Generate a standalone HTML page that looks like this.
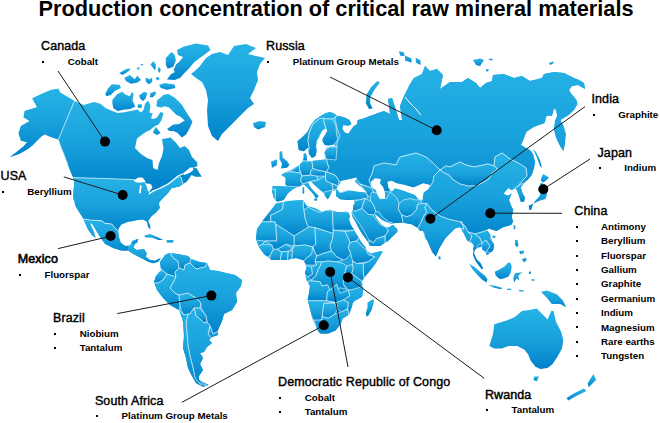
<!DOCTYPE html>
<html><head><meta charset="utf-8">
<style>
html,body{margin:0;padding:0;background:#fff;}
body{width:660px;height:423px;position:relative;overflow:hidden;font-family:"Liberation Sans",sans-serif;color:#000;}
#map{position:absolute;left:0;top:0;width:660px;height:423px;}
.t{position:absolute;white-space:nowrap;line-height:1;}
.title{font-size:21.73px;font-weight:bold;left:38.5px;top:-1.7px;}
.h{font-size:12.5px;letter-spacing:0.1px;}
.b{font-size:9.75px;font-weight:bold;}
.bl{position:absolute;width:2px;height:2px;background:#000;}
</style></head><body>
<svg id="map" viewBox="0 0 660 423">
<defs>
<linearGradient id="g" x1="0" y1="0" x2="0" y2="1"><stop offset="0" stop-color="#27b3e6"/><stop offset="0.5" stop-color="#19a1dc"/><stop offset="1" stop-color="#0082ca"/></linearGradient>
<clipPath id="cNA"><path d="M74.4,101 L84,105 L94,102 L100.4,103.8 L105.8,108.2 L112.4,111 L117.8,113 L124.4,112.3 L132,110.8 L137.4,109.6 L141,112.5 L143.5,110 L145,103.8 L148.3,100.5 L150.5,106 L149.4,112.5 L152.7,113.6 L151,118 L153,119 L156.4,118 L160.6,111.9 L163.5,113.3 L161.3,120.4 L158.5,124.6 L155,126 L150,130 L146,132 L142.2,134.6 L137,138.5 L135,148 L141,154 L147,158 L152.5,160 L153,168 L157.5,170 L159,163 L162,156 L163.5,148.7 L162,139 L164.2,138.8 L170.6,137.4 L176.2,143 L180,148 L184.7,145.9 L189,150 L192,157 L197,162 L197.5,166 L193,168 L196.7,168.3 L200,174 L201.7,176.7 L195,176.7 L191.7,175 L186.7,181.7 L183,184 L179,186.7 L171.7,188 L168,193 L163,198 L159,203 L160,208 L155.8,213 L151.8,216 L148.2,221 L150,225 L150.6,229.4 L148,227 L147,222 L143.3,219.7 L138,220 L133.6,221 L127.6,222 L121.5,224.5 L119,228 L118.3,230.8 L119,236.7 L120.8,242.5 L125,245.8 L130,245.8 L132.5,240.8 L138.3,239 L137.5,242.5 L135,244 L133.3,247.5 L136.7,250 L144,249 L146.7,253.3 L145.8,256.7 L150,260 L155,260.8 L158.3,259 L160.8,258.3 L158.3,261.7 L153.3,263.3 L148.3,261.7 L141.7,258.3 L133.3,254 L128.3,250.8 L121.7,250.8 L113.3,248.3 L105,244 L100.8,238.3 L96.7,231.7 L92.5,224.5 L90,223.3 L94,231.7 L95.8,238.3 L91.7,235 L87.5,229 L83.3,219 L81.5,216 L75.5,206.4 L73,196.7 L74.2,184.5 L74.4,181 L73,177.5 L69.5,169.3 L65.8,159.4 L62,149.5 L58.3,139.6ZM74.4,101 L60,92.5 L58.3,88.7 L50.9,90 L44,93 L37.2,96 L32.3,98.6 L37.2,107.3 L24.8,111 L23.6,117.2 L29.8,121 L21,126 L18.6,133.3 L21,140.8 L27.3,142 L24,146 L16,152.5 L10,157 L19,154 L27,149.5 L32.3,145.5 L37.2,140.6 L41,136.8 L44.7,134.3 L49.6,136.5 L58.3,139.6Z"/></clipPath>
<clipPath id="cEA"><path d="M297.5,141.3 L302.4,137 L307.4,132 L311,125 L314.8,120 L319.8,116.4 L325.4,113.3 L329.8,112 L333.5,113.3 L337.2,115.8 L343.4,117 L349.6,120 L351.5,124 L348.4,125.7 L343.4,125 L342.2,128.8 L344.7,132.6 L348.4,133.8 L350.9,130 L353.4,126.4 L357,124 L357.7,120 L362,119 L370,116 L378,113 L384,111 L390,114 L389,106 L388,99 L392,98 L396,110 L399,120 L402,120 L400,106 L404,96 L410,84 L414,78 L422,74 L425,66 L430,71 L437,69 L443,75 L440,89 L450,82 L462,82 L468,78 L476,83 L480,88 L486,83 L492,81 L493,75 L504,74 L514,78 L522,76 L530,81 L542,78 L544,74 L554,72 L564,73 L574,78 L579,80 L584,83 L585,89 L578,85 L572,86 L569,90 L571,93.4 L576.4,99.8 L577.4,104 L574.3,109.4 L569,114.7 L563.6,117.9 L560.4,120 L563.6,126.4 L565.7,133.8 L565,142.3 L563.6,150.9 L560.4,146.6 L556.2,138 L554,129.6 L555,121 L557.2,115.7 L556.2,110.4 L554,108.3 L552,115.7 L546.6,115.7 L544.5,123 L536,126 L532.8,127.4 L526.4,131.7 L523.2,140 L521,145 L526,148 L530,150 L533,154 L535,162 L534,168 L531.7,175 L527.5,180 L525,181.7 L521.7,185.8 L520.8,187.5 L522.5,193.3 L525,197.5 L524,201.7 L520.8,201.7 L519,195.8 L516.7,190 L515,188.3 L511.7,190 L508.3,188 L505,191.7 L503.3,194 L508.3,195.8 L511.7,193.3 L509,200 L510.8,205 L513.3,210 L511.7,216.7 L513,222 L511,225 L503.6,227 L496.4,231 L489,228.5 L486.7,230 L490,234.2 L491.7,240 L494.2,245 L493.3,250 L490,253.3 L486.7,255 L485.8,252.5 L482.5,250 L481.7,246.7 L478.3,247.5 L475,250 L474,253 L476.7,259.2 L480.8,263.3 L483.3,268.7 L481.7,269.2 L478.3,265 L475,260 L473,255 L473.3,244 L467.3,240.6 L463.6,233 L460,227 L455,228.5 L451.5,232 L445.5,238 L439.4,247.9 L435.8,256.4 L432,251.5 L427.3,240.6 L425,237.7 L423.3,231 L420,231 L417.5,227.7 L411.7,224.3 L403.3,222.7 L395,223 L392.5,224 L389,223 L385,221.5 L382,220 L379,217.5 L376,215 L374.5,214 L377,219 L380,223 L382,225 L385,227 L389,227.5 L391,226 L393,225 L395,227 L398,230 L397.5,232 L393.3,236 L388.3,241 L385,242.7 L380,246 L370,246 L368,242 L365,238 L362,234 L359,229 L356,223 L352.5,217 L351.5,213 L353,210 L353.5,205 L355,203 L354,201 L358.7,199.3 L348.7,200 L340.3,199.3 L336,196 L336,190 L332,191 L330.3,195 L327.8,199.3 L325.3,196 L322.8,191.8 L318.7,189.3 L313.7,184.3 L310.3,181 L308,182.5 L310.3,187 L314.5,192 L318.7,196 L316,198.5 L314,195 L310,190.5 L307,187 L304,184.5 L301,186 L297.8,186.8 L292.8,189.3 L287.8,193.5 L283.7,200 L277,201.8 L273.7,197.7 L272,191 L272.8,186 L282.8,186 L287,186.8 L285.3,184.3 L285.3,177.7 L281,175 L287,171.8 L291,170 L296,166.8 L299.5,165 L302,161.8 L303.7,158 L303.7,153.5 L306,153.5 L307,158.5 L307,161 L312,161 L318.7,160.2 L325.3,159.3 L324.5,152.7 L326,149 L327,147.3 L336,146 L333.5,144.4 L328.5,145.6 L324.8,145 L322.5,141.3 L322.9,138.2 L325.4,134.4 L327.3,130.7 L326,128.8 L323.5,129.5 L321,132.6 L319.2,137.5 L316.7,141.3 L316,146.2 L316.7,151.2 L315.5,156 L312,158 L310.5,156 L308.6,153 L308,147.5 L303.7,151.2 L298.7,150Z"/></clipPath>
<clipPath id="cAF"><path d="M276,203.5 L288.5,201 L303,200 L306.7,206 L315,208 L322.4,212 L329.7,209.5 L337,212 L343,212 L345,211.5 L348,212 L350,216 L349,219.5 L351,225 L354,230 L357,235 L360,240 L361.7,242.7 L365,246.8 L366.7,250.2 L370.8,253.5 L381.7,251 L382.5,252 L380,256 L375,264.3 L368.3,272.7 L364,277.7 L362,282 L363.3,289.4 L362,296.7 L353.6,301.5 L351.2,308.8 L348.8,314.8 L342.7,318.5 L340.3,324.5 L335.5,330.6 L328.2,333.5 L319.7,333.5 L317.3,329.4 L312.4,318.5 L310,308.8 L307.6,300 L309,293 L310,286 L306.4,279.7 L305,272 L306.7,267.7 L304,260.5 L296,258 L286,260 L271.5,260 L264,254 L259,247 L256,239 L257,229 L264,219 L271.5,209.5Z"/></clipPath>
<clipPath id="cSA"><path d="M165,255 L169,253 L178,254 L188,256 L191,259 L200,262 L207,263 L210,270 L218,271 L226,273 L235,275 L242,280 L241,286 L236,293 L237,302 L232,310 L224,314 L222,321 L218,330 L218,335 L212,337 L209,340 L212,343 L207,347 L204,352 L200,353 L203,358 L200,364 L203,370 L199,376 L199,380 L209,385 L203,387 L196,383 L192,376 L188,368 L186,358 L183,348 L184,336 L183,322 L182,318 L179,310 L170,305 L163,298 L157,290 L154,282 L156,276 L161,270 L160,262Z"/></clipPath>
<linearGradient id="gCA" gradientUnits="userSpaceOnUse" x1="0" y1="100" x2="0" y2="186"><stop offset="0" stop-color="#27b3e6"/><stop offset="0.5" stop-color="#19a1dc"/><stop offset="1" stop-color="#0082ca"/></linearGradient>
<linearGradient id="gUS" gradientUnits="userSpaceOnUse" x1="0" y1="177" x2="0" y2="232"><stop offset="0" stop-color="#27b3e6"/><stop offset="0.5" stop-color="#19a1dc"/><stop offset="1" stop-color="#0082ca"/></linearGradient>
<linearGradient id="gMX" gradientUnits="userSpaceOnUse" x1="0" y1="219" x2="0" y2="254"><stop offset="0" stop-color="#27b3e6"/><stop offset="0.5" stop-color="#19a1dc"/><stop offset="1" stop-color="#0082ca"/></linearGradient>
<linearGradient id="gCAm" gradientUnits="userSpaceOnUse" x1="0" y1="244" x2="0" y2="266"><stop offset="0" stop-color="#27b3e6"/><stop offset="0.5" stop-color="#19a1dc"/><stop offset="1" stop-color="#0082ca"/></linearGradient>
<linearGradient id="gAK" gradientUnits="userSpaceOnUse" x1="0" y1="90" x2="0" y2="156"><stop offset="0" stop-color="#27b3e6"/><stop offset="0.5" stop-color="#19a1dc"/><stop offset="1" stop-color="#0082ca"/></linearGradient>
<linearGradient id="gRU" gradientUnits="userSpaceOnUse" x1="0" y1="60" x2="0" y2="218"><stop offset="0" stop-color="#27b3e6"/><stop offset="0.5" stop-color="#19a1dc"/><stop offset="1" stop-color="#0082ca"/></linearGradient>
<linearGradient id="gME" gradientUnits="userSpaceOnUse" x1="0" y1="175" x2="0" y2="250"><stop offset="0" stop-color="#27b3e6"/><stop offset="0.5" stop-color="#19a1dc"/><stop offset="1" stop-color="#0082ca"/></linearGradient>
<linearGradient id="c1" gradientUnits="userSpaceOnUse" x1="0" y1="110" x2="0" y2="152"><stop offset="0" stop-color="#27b3e6"/><stop offset="0.5" stop-color="#19a1dc"/><stop offset="1" stop-color="#0082ca"/></linearGradient>
<linearGradient id="c2" gradientUnits="userSpaceOnUse" x1="0" y1="118.3" x2="0" y2="159.5"><stop offset="0" stop-color="#27b3e6"/><stop offset="0.5" stop-color="#19a1dc"/><stop offset="1" stop-color="#0082ca"/></linearGradient>
<linearGradient id="c3" gradientUnits="userSpaceOnUse" x1="0" y1="118.3" x2="0" y2="147"><stop offset="0" stop-color="#27b3e6"/><stop offset="0.5" stop-color="#19a1dc"/><stop offset="1" stop-color="#0082ca"/></linearGradient>
<linearGradient id="c4" gradientUnits="userSpaceOnUse" x1="0" y1="152" x2="0" y2="161"><stop offset="0" stop-color="#27b3e6"/><stop offset="0.5" stop-color="#19a1dc"/><stop offset="1" stop-color="#0082ca"/></linearGradient>
<linearGradient id="c5" gradientUnits="userSpaceOnUse" x1="0" y1="161" x2="0" y2="176"><stop offset="0" stop-color="#27b3e6"/><stop offset="0.5" stop-color="#19a1dc"/><stop offset="1" stop-color="#0082ca"/></linearGradient>
<linearGradient id="c6" gradientUnits="userSpaceOnUse" x1="0" y1="159" x2="0" y2="171.8"><stop offset="0" stop-color="#27b3e6"/><stop offset="0.5" stop-color="#19a1dc"/><stop offset="1" stop-color="#0082ca"/></linearGradient>
<linearGradient id="c7" gradientUnits="userSpaceOnUse" x1="0" y1="147" x2="0" y2="160"><stop offset="0" stop-color="#27b3e6"/><stop offset="0.5" stop-color="#19a1dc"/><stop offset="1" stop-color="#0082ca"/></linearGradient>
<linearGradient id="c8" gradientUnits="userSpaceOnUse" x1="0" y1="165" x2="0" y2="173"><stop offset="0" stop-color="#27b3e6"/><stop offset="0.5" stop-color="#19a1dc"/><stop offset="1" stop-color="#0082ca"/></linearGradient>
<linearGradient id="c9" gradientUnits="userSpaceOnUse" x1="0" y1="172" x2="0" y2="188"><stop offset="0" stop-color="#27b3e6"/><stop offset="0.5" stop-color="#19a1dc"/><stop offset="1" stop-color="#0082ca"/></linearGradient>
<linearGradient id="c10" gradientUnits="userSpaceOnUse" x1="0" y1="185" x2="0" y2="203"><stop offset="0" stop-color="#27b3e6"/><stop offset="0.5" stop-color="#19a1dc"/><stop offset="1" stop-color="#0082ca"/></linearGradient>
<linearGradient id="c11" gradientUnits="userSpaceOnUse" x1="0" y1="189" x2="0" y2="203"><stop offset="0" stop-color="#27b3e6"/><stop offset="0.5" stop-color="#19a1dc"/><stop offset="1" stop-color="#0082ca"/></linearGradient>
<linearGradient id="c12" gradientUnits="userSpaceOnUse" x1="0" y1="175" x2="0" y2="184"><stop offset="0" stop-color="#27b3e6"/><stop offset="0.5" stop-color="#19a1dc"/><stop offset="1" stop-color="#0082ca"/></linearGradient>
<linearGradient id="c13" gradientUnits="userSpaceOnUse" x1="0" y1="168.5" x2="0" y2="176"><stop offset="0" stop-color="#27b3e6"/><stop offset="0.5" stop-color="#19a1dc"/><stop offset="1" stop-color="#0082ca"/></linearGradient>
<linearGradient id="c14" gradientUnits="userSpaceOnUse" x1="0" y1="181.5" x2="0" y2="201"><stop offset="0" stop-color="#27b3e6"/><stop offset="0.5" stop-color="#19a1dc"/><stop offset="1" stop-color="#0082ca"/></linearGradient>
<linearGradient id="c15" gradientUnits="userSpaceOnUse" x1="0" y1="176" x2="0" y2="201"><stop offset="0" stop-color="#27b3e6"/><stop offset="0.5" stop-color="#19a1dc"/><stop offset="1" stop-color="#0082ca"/></linearGradient>
<linearGradient id="c16" gradientUnits="userSpaceOnUse" x1="0" y1="171.8" x2="0" y2="186"><stop offset="0" stop-color="#27b3e6"/><stop offset="0.5" stop-color="#19a1dc"/><stop offset="1" stop-color="#0082ca"/></linearGradient>
<linearGradient id="c17" gradientUnits="userSpaceOnUse" x1="0" y1="183.5" x2="0" y2="191"><stop offset="0" stop-color="#27b3e6"/><stop offset="0.5" stop-color="#19a1dc"/><stop offset="1" stop-color="#0082ca"/></linearGradient>
<linearGradient id="c18" gradientUnits="userSpaceOnUse" x1="0" y1="190" x2="0" y2="201"><stop offset="0" stop-color="#27b3e6"/><stop offset="0.5" stop-color="#19a1dc"/><stop offset="1" stop-color="#0082ca"/></linearGradient>
<linearGradient id="c19" gradientUnits="userSpaceOnUse" x1="0" y1="189" x2="0" y2="203"><stop offset="0" stop-color="#27b3e6"/><stop offset="0.5" stop-color="#19a1dc"/><stop offset="1" stop-color="#0082ca"/></linearGradient>
<linearGradient id="c20" gradientUnits="userSpaceOnUse" x1="0" y1="184" x2="0" y2="196.8"><stop offset="0" stop-color="#27b3e6"/><stop offset="0.5" stop-color="#19a1dc"/><stop offset="1" stop-color="#0082ca"/></linearGradient>
<linearGradient id="c21" gradientUnits="userSpaceOnUse" x1="0" y1="198.5" x2="0" y2="211"><stop offset="0" stop-color="#27b3e6"/><stop offset="0.5" stop-color="#19a1dc"/><stop offset="1" stop-color="#0082ca"/></linearGradient>
<linearGradient id="c22" gradientUnits="userSpaceOnUse" x1="0" y1="198.5" x2="0" y2="215"><stop offset="0" stop-color="#27b3e6"/><stop offset="0.5" stop-color="#19a1dc"/><stop offset="1" stop-color="#0082ca"/></linearGradient>
<linearGradient id="c23" gradientUnits="userSpaceOnUse" x1="0" y1="191.8" x2="0" y2="224"><stop offset="0" stop-color="#27b3e6"/><stop offset="0.5" stop-color="#19a1dc"/><stop offset="1" stop-color="#0082ca"/></linearGradient>
<linearGradient id="c24" gradientUnits="userSpaceOnUse" x1="0" y1="198.5" x2="0" y2="216.8"><stop offset="0" stop-color="#27b3e6"/><stop offset="0.5" stop-color="#19a1dc"/><stop offset="1" stop-color="#0082ca"/></linearGradient>
<linearGradient id="c25" gradientUnits="userSpaceOnUse" x1="0" y1="203.5" x2="0" y2="228.5"><stop offset="0" stop-color="#27b3e6"/><stop offset="0.5" stop-color="#19a1dc"/><stop offset="1" stop-color="#0082ca"/></linearGradient>
<linearGradient id="c26" gradientUnits="userSpaceOnUse" x1="0" y1="208.5" x2="0" y2="242.7"><stop offset="0" stop-color="#27b3e6"/><stop offset="0.5" stop-color="#19a1dc"/><stop offset="1" stop-color="#0082ca"/></linearGradient>
<linearGradient id="c27" gradientUnits="userSpaceOnUse" x1="0" y1="222" x2="0" y2="242.7"><stop offset="0" stop-color="#27b3e6"/><stop offset="0.5" stop-color="#19a1dc"/><stop offset="1" stop-color="#0082ca"/></linearGradient>
<linearGradient id="c28" gradientUnits="userSpaceOnUse" x1="0" y1="236" x2="0" y2="248"><stop offset="0" stop-color="#27b3e6"/><stop offset="0.5" stop-color="#19a1dc"/><stop offset="1" stop-color="#0082ca"/></linearGradient>
<linearGradient id="c29" gradientUnits="userSpaceOnUse" x1="0" y1="153" x2="0" y2="192"><stop offset="0" stop-color="#27b3e6"/><stop offset="0.5" stop-color="#19a1dc"/><stop offset="1" stop-color="#0082ca"/></linearGradient>
<linearGradient id="c30" gradientUnits="userSpaceOnUse" x1="0" y1="162" x2="0" y2="186"><stop offset="0" stop-color="#27b3e6"/><stop offset="0.5" stop-color="#19a1dc"/><stop offset="1" stop-color="#0082ca"/></linearGradient>
<linearGradient id="c31" gradientUnits="userSpaceOnUse" x1="0" y1="153" x2="0" y2="240"><stop offset="0" stop-color="#27b3e6"/><stop offset="0.5" stop-color="#19a1dc"/><stop offset="1" stop-color="#0082ca"/></linearGradient>
<linearGradient id="c32" gradientUnits="userSpaceOnUse" x1="0" y1="203.5" x2="0" y2="259"><stop offset="0" stop-color="#27b3e6"/><stop offset="0.5" stop-color="#19a1dc"/><stop offset="1" stop-color="#0082ca"/></linearGradient>
<linearGradient id="c33" gradientUnits="userSpaceOnUse" x1="0" y1="183" x2="0" y2="203"><stop offset="0" stop-color="#27b3e6"/><stop offset="0.5" stop-color="#19a1dc"/><stop offset="1" stop-color="#0082ca"/></linearGradient>
<linearGradient id="c34" gradientUnits="userSpaceOnUse" x1="0" y1="222" x2="0" y2="252"><stop offset="0" stop-color="#27b3e6"/><stop offset="0.5" stop-color="#19a1dc"/><stop offset="1" stop-color="#0082ca"/></linearGradient>
<linearGradient id="c35" gradientUnits="userSpaceOnUse" x1="0" y1="232" x2="0" y2="252"><stop offset="0" stop-color="#27b3e6"/><stop offset="0.5" stop-color="#19a1dc"/><stop offset="1" stop-color="#0082ca"/></linearGradient>
<linearGradient id="c36" gradientUnits="userSpaceOnUse" x1="0" y1="229.5" x2="0" y2="253"><stop offset="0" stop-color="#27b3e6"/><stop offset="0.5" stop-color="#19a1dc"/><stop offset="1" stop-color="#0082ca"/></linearGradient>
<linearGradient id="c37" gradientUnits="userSpaceOnUse" x1="0" y1="240" x2="0" y2="252"><stop offset="0" stop-color="#27b3e6"/><stop offset="0.5" stop-color="#19a1dc"/><stop offset="1" stop-color="#0082ca"/></linearGradient>
<linearGradient id="gAF" gradientUnits="userSpaceOnUse" x1="0" y1="200" x2="0" y2="336"><stop offset="0" stop-color="#27b3e6"/><stop offset="0.5" stop-color="#19a1dc"/><stop offset="1" stop-color="#0082ca"/></linearGradient>
<linearGradient id="c38" gradientUnits="userSpaceOnUse" x1="0" y1="201" x2="0" y2="221.8"><stop offset="0" stop-color="#27b3e6"/><stop offset="0.5" stop-color="#19a1dc"/><stop offset="1" stop-color="#0082ca"/></linearGradient>
<linearGradient id="c39" gradientUnits="userSpaceOnUse" x1="0" y1="199" x2="0" y2="236"><stop offset="0" stop-color="#27b3e6"/><stop offset="0.5" stop-color="#19a1dc"/><stop offset="1" stop-color="#0082ca"/></linearGradient>
<linearGradient id="c40" gradientUnits="userSpaceOnUse" x1="0" y1="199" x2="0" y2="210"><stop offset="0" stop-color="#27b3e6"/><stop offset="0.5" stop-color="#19a1dc"/><stop offset="1" stop-color="#0082ca"/></linearGradient>
<linearGradient id="c41" gradientUnits="userSpaceOnUse" x1="0" y1="207" x2="0" y2="233.5"><stop offset="0" stop-color="#27b3e6"/><stop offset="0.5" stop-color="#19a1dc"/><stop offset="1" stop-color="#0082ca"/></linearGradient>
<linearGradient id="c42" gradientUnits="userSpaceOnUse" x1="0" y1="210.8" x2="0" y2="230.2"><stop offset="0" stop-color="#27b3e6"/><stop offset="0.5" stop-color="#19a1dc"/><stop offset="1" stop-color="#0082ca"/></linearGradient>
<linearGradient id="c43" gradientUnits="userSpaceOnUse" x1="0" y1="221.8" x2="0" y2="244.3"><stop offset="0" stop-color="#27b3e6"/><stop offset="0.5" stop-color="#19a1dc"/><stop offset="1" stop-color="#0082ca"/></linearGradient>
<linearGradient id="c44" gradientUnits="userSpaceOnUse" x1="0" y1="224.3" x2="0" y2="249.3"><stop offset="0" stop-color="#27b3e6"/><stop offset="0.5" stop-color="#19a1dc"/><stop offset="1" stop-color="#0082ca"/></linearGradient>
<linearGradient id="c45" gradientUnits="userSpaceOnUse" x1="0" y1="226.8" x2="0" y2="249.3"><stop offset="0" stop-color="#27b3e6"/><stop offset="0.5" stop-color="#19a1dc"/><stop offset="1" stop-color="#0082ca"/></linearGradient>
<linearGradient id="c46" gradientUnits="userSpaceOnUse" x1="0" y1="227.7" x2="0" y2="256"><stop offset="0" stop-color="#27b3e6"/><stop offset="0.5" stop-color="#19a1dc"/><stop offset="1" stop-color="#0082ca"/></linearGradient>
<linearGradient id="c47" gradientUnits="userSpaceOnUse" x1="0" y1="230.2" x2="0" y2="260"><stop offset="0" stop-color="#27b3e6"/><stop offset="0.5" stop-color="#19a1dc"/><stop offset="1" stop-color="#0082ca"/></linearGradient>
<linearGradient id="c48" gradientUnits="userSpaceOnUse" x1="0" y1="230" x2="0" y2="242.7"><stop offset="0" stop-color="#27b3e6"/><stop offset="0.5" stop-color="#19a1dc"/><stop offset="1" stop-color="#0082ca"/></linearGradient>
<linearGradient id="c49" gradientUnits="userSpaceOnUse" x1="0" y1="241" x2="0" y2="263.5"><stop offset="0" stop-color="#27b3e6"/><stop offset="0.5" stop-color="#19a1dc"/><stop offset="1" stop-color="#0082ca"/></linearGradient>
<linearGradient id="c50" gradientUnits="userSpaceOnUse" x1="0" y1="249" x2="0" y2="279"><stop offset="0" stop-color="#27b3e6"/><stop offset="0.5" stop-color="#19a1dc"/><stop offset="1" stop-color="#0082ca"/></linearGradient>
<linearGradient id="c51" gradientUnits="userSpaceOnUse" x1="0" y1="237" x2="0" y2="250.2"><stop offset="0" stop-color="#27b3e6"/><stop offset="0.5" stop-color="#19a1dc"/><stop offset="1" stop-color="#0082ca"/></linearGradient>
<linearGradient id="c52" gradientUnits="userSpaceOnUse" x1="0" y1="240" x2="0" y2="247"><stop offset="0" stop-color="#27b3e6"/><stop offset="0.5" stop-color="#19a1dc"/><stop offset="1" stop-color="#0082ca"/></linearGradient>
<linearGradient id="c53" gradientUnits="userSpaceOnUse" x1="0" y1="244.3" x2="0" y2="258"><stop offset="0" stop-color="#27b3e6"/><stop offset="0.5" stop-color="#19a1dc"/><stop offset="1" stop-color="#0082ca"/></linearGradient>
<linearGradient id="c54" gradientUnits="userSpaceOnUse" x1="0" y1="249.3" x2="0" y2="262"><stop offset="0" stop-color="#27b3e6"/><stop offset="0.5" stop-color="#19a1dc"/><stop offset="1" stop-color="#0082ca"/></linearGradient>
<linearGradient id="c55" gradientUnits="userSpaceOnUse" x1="0" y1="244.3" x2="0" y2="251.8"><stop offset="0" stop-color="#27b3e6"/><stop offset="0.5" stop-color="#19a1dc"/><stop offset="1" stop-color="#0082ca"/></linearGradient>
<linearGradient id="c56" gradientUnits="userSpaceOnUse" x1="0" y1="251" x2="0" y2="262"><stop offset="0" stop-color="#27b3e6"/><stop offset="0.5" stop-color="#19a1dc"/><stop offset="1" stop-color="#0082ca"/></linearGradient>
<linearGradient id="c57" gradientUnits="userSpaceOnUse" x1="0" y1="249.3" x2="0" y2="262"><stop offset="0" stop-color="#27b3e6"/><stop offset="0.5" stop-color="#19a1dc"/><stop offset="1" stop-color="#0082ca"/></linearGradient>
<linearGradient id="c58" gradientUnits="userSpaceOnUse" x1="0" y1="245" x2="0" y2="262"><stop offset="0" stop-color="#27b3e6"/><stop offset="0.5" stop-color="#19a1dc"/><stop offset="1" stop-color="#0082ca"/></linearGradient>
<linearGradient id="c59" gradientUnits="userSpaceOnUse" x1="0" y1="246.8" x2="0" y2="265"><stop offset="0" stop-color="#27b3e6"/><stop offset="0.5" stop-color="#19a1dc"/><stop offset="1" stop-color="#0082ca"/></linearGradient>
<linearGradient id="c60" gradientUnits="userSpaceOnUse" x1="0" y1="251" x2="0" y2="261.8"><stop offset="0" stop-color="#27b3e6"/><stop offset="0.5" stop-color="#19a1dc"/><stop offset="1" stop-color="#0082ca"/></linearGradient>
<linearGradient id="c61" gradientUnits="userSpaceOnUse" x1="0" y1="265" x2="0" y2="277"><stop offset="0" stop-color="#27b3e6"/><stop offset="0.5" stop-color="#19a1dc"/><stop offset="1" stop-color="#0082ca"/></linearGradient>
<linearGradient id="c62" gradientUnits="userSpaceOnUse" x1="0" y1="261.8" x2="0" y2="280"><stop offset="0" stop-color="#27b3e6"/><stop offset="0.5" stop-color="#19a1dc"/><stop offset="1" stop-color="#0082ca"/></linearGradient>
<linearGradient id="c63" gradientUnits="userSpaceOnUse" x1="0" y1="261" x2="0" y2="290"><stop offset="0" stop-color="#27b3e6"/><stop offset="0.5" stop-color="#19a1dc"/><stop offset="1" stop-color="#0082ca"/></linearGradient>
<linearGradient id="c64" gradientUnits="userSpaceOnUse" x1="0" y1="264.3" x2="0" y2="273.5"><stop offset="0" stop-color="#27b3e6"/><stop offset="0.5" stop-color="#19a1dc"/><stop offset="1" stop-color="#0082ca"/></linearGradient>
<linearGradient id="c65" gradientUnits="userSpaceOnUse" x1="0" y1="261" x2="0" y2="281"><stop offset="0" stop-color="#27b3e6"/><stop offset="0.5" stop-color="#19a1dc"/><stop offset="1" stop-color="#0082ca"/></linearGradient>
<linearGradient id="c66" gradientUnits="userSpaceOnUse" x1="0" y1="272.7" x2="0" y2="290"><stop offset="0" stop-color="#27b3e6"/><stop offset="0.5" stop-color="#19a1dc"/><stop offset="1" stop-color="#0082ca"/></linearGradient>
<linearGradient id="c67" gradientUnits="userSpaceOnUse" x1="0" y1="280.8" x2="0" y2="300.8"><stop offset="0" stop-color="#27b3e6"/><stop offset="0.5" stop-color="#19a1dc"/><stop offset="1" stop-color="#0082ca"/></linearGradient>
<linearGradient id="c68" gradientUnits="userSpaceOnUse" x1="0" y1="284.3" x2="0" y2="302.5"><stop offset="0" stop-color="#27b3e6"/><stop offset="0.5" stop-color="#19a1dc"/><stop offset="1" stop-color="#0082ca"/></linearGradient>
<linearGradient id="c69" gradientUnits="userSpaceOnUse" x1="0" y1="286" x2="0" y2="316"><stop offset="0" stop-color="#27b3e6"/><stop offset="0.5" stop-color="#19a1dc"/><stop offset="1" stop-color="#0082ca"/></linearGradient>
<linearGradient id="c70" gradientUnits="userSpaceOnUse" x1="0" y1="300" x2="0" y2="311.7"><stop offset="0" stop-color="#27b3e6"/><stop offset="0.5" stop-color="#19a1dc"/><stop offset="1" stop-color="#0082ca"/></linearGradient>
<linearGradient id="c71" gradientUnits="userSpaceOnUse" x1="0" y1="300.8" x2="0" y2="321"><stop offset="0" stop-color="#27b3e6"/><stop offset="0.5" stop-color="#19a1dc"/><stop offset="1" stop-color="#0082ca"/></linearGradient>
<linearGradient id="c72" gradientUnits="userSpaceOnUse" x1="0" y1="303.3" x2="0" y2="318.3"><stop offset="0" stop-color="#27b3e6"/><stop offset="0.5" stop-color="#19a1dc"/><stop offset="1" stop-color="#0082ca"/></linearGradient>
<linearGradient id="c73" gradientUnits="userSpaceOnUse" x1="0" y1="309" x2="0" y2="335"><stop offset="0" stop-color="#27b3e6"/><stop offset="0.5" stop-color="#19a1dc"/><stop offset="1" stop-color="#0082ca"/></linearGradient>
<linearGradient id="gSA" gradientUnits="userSpaceOnUse" x1="0" y1="253" x2="0" y2="388"><stop offset="0" stop-color="#27b3e6"/><stop offset="0.5" stop-color="#19a1dc"/><stop offset="1" stop-color="#0082ca"/></linearGradient>
<linearGradient id="c74" gradientUnits="userSpaceOnUse" x1="0" y1="250" x2="0" y2="277"><stop offset="0" stop-color="#27b3e6"/><stop offset="0.5" stop-color="#19a1dc"/><stop offset="1" stop-color="#0082ca"/></linearGradient>
<linearGradient id="c75" gradientUnits="userSpaceOnUse" x1="0" y1="250" x2="0" y2="270"><stop offset="0" stop-color="#27b3e6"/><stop offset="0.5" stop-color="#19a1dc"/><stop offset="1" stop-color="#0082ca"/></linearGradient>
<linearGradient id="c76" gradientUnits="userSpaceOnUse" x1="0" y1="257" x2="0" y2="269"><stop offset="0" stop-color="#27b3e6"/><stop offset="0.5" stop-color="#19a1dc"/><stop offset="1" stop-color="#0082ca"/></linearGradient>
<linearGradient id="c77" gradientUnits="userSpaceOnUse" x1="0" y1="270" x2="0" y2="283"><stop offset="0" stop-color="#27b3e6"/><stop offset="0.5" stop-color="#19a1dc"/><stop offset="1" stop-color="#0082ca"/></linearGradient>
<linearGradient id="c78" gradientUnits="userSpaceOnUse" x1="0" y1="274" x2="0" y2="312"><stop offset="0" stop-color="#27b3e6"/><stop offset="0.5" stop-color="#19a1dc"/><stop offset="1" stop-color="#0082ca"/></linearGradient>
<linearGradient id="c79" gradientUnits="userSpaceOnUse" x1="0" y1="293" x2="0" y2="315"><stop offset="0" stop-color="#27b3e6"/><stop offset="0.5" stop-color="#19a1dc"/><stop offset="1" stop-color="#0082ca"/></linearGradient>
<linearGradient id="c80" gradientUnits="userSpaceOnUse" x1="0" y1="261" x2="0" y2="334"><stop offset="0" stop-color="#27b3e6"/><stop offset="0.5" stop-color="#19a1dc"/><stop offset="1" stop-color="#0082ca"/></linearGradient>
<linearGradient id="c81" gradientUnits="userSpaceOnUse" x1="0" y1="308" x2="0" y2="323"><stop offset="0" stop-color="#27b3e6"/><stop offset="0.5" stop-color="#19a1dc"/><stop offset="1" stop-color="#0082ca"/></linearGradient>
<linearGradient id="c82" gradientUnits="userSpaceOnUse" x1="0" y1="326" x2="0" y2="339"><stop offset="0" stop-color="#27b3e6"/><stop offset="0.5" stop-color="#19a1dc"/><stop offset="1" stop-color="#0082ca"/></linearGradient>
<linearGradient id="c83" gradientUnits="userSpaceOnUse" x1="0" y1="308" x2="0" y2="388"><stop offset="0" stop-color="#27b3e6"/><stop offset="0.5" stop-color="#19a1dc"/><stop offset="1" stop-color="#0082ca"/></linearGradient>
<linearGradient id="c84" gradientUnits="userSpaceOnUse" x1="0" y1="310" x2="0" y2="390"><stop offset="0" stop-color="#27b3e6"/><stop offset="0.5" stop-color="#19a1dc"/><stop offset="1" stop-color="#0082ca"/></linearGradient>
</defs>
<g clip-path="url(#cNA)"><rect x="0" y="80" width="260" height="120" fill="url(#gCA)"/><path d="M73,177.5 L105,178.5 L132,179.5 L136,180 L142,180 L146,184 L148,189 L150,193 L158,189 L166,185 L172,181 L177,177 L181,177 L183,184 L210,184 L210,240 L125,240 L118.3,230.8 L115.8,229 L111.7,224 L105,223.3 L101.7,220.8 L90,220 L83.3,219 L60,219 L60,177.5Z" fill="url(#gUS)"/><path d="M83.3,219 L90,220 L101.7,220.8 L105,223.3 L111.7,224 L115.8,229 L118.3,230.8 L180,230.8 L180,275 L60,275 L60,219Z" fill="url(#gMX)"/><path d="M128,244 L170,244 L170,270 L140,270 L133,254 L128,250.8Z" fill="url(#gCAm)"/><path d="M74.4,101 L58.3,139.6 L62,149.5 L40,162 L0,162 L0,80 L74.4,80Z" fill="url(#gAK)"/><path d="M73,177.5 L105,178.5 L132,179.5 L136,180 L142,180 L146,184 L148,189 L150,193 L158,189 L166,185 L172,181 L177,177 L181,177 L183,184" stroke="#fff" stroke-width="0.8" fill="none" opacity="0.85"/><path d="M83.3,219 L90,220 L101.7,220.8 L105,223.3 L111.7,224 L115.8,229 L118.3,230.8" stroke="#fff" stroke-width="0.8" fill="none" opacity="0.85"/><path d="M74.4,101 L58.3,139.6 L61,147 L64.5,156 L68,165" stroke="#fff" stroke-width="0.8" fill="none" opacity="0.85"/></g>
<g clip-path="url(#cEA)"><rect x="260" y="60" width="340" height="220" fill="url(#gME)"/><path d="M328,147 L326.2,159 L328.7,167.7 L326.2,171.8 L335.3,175.2 L339,181 L345,183 L356,178 L360,184 L366,186 L372,188 L369,180 L372,174 L374,166 L384,163 L396,165 L400,157 L416,153 L426,157 L434,164 L440,170 L446,166 L450,167 L460,162 L466,165 L474,167 L488,164 L494,166 L495,157 L502,153 L510,159 L520,164 L526,168 L527,176 L523,180 L517,187 L540,200 L600,200 L600,50 L337,50 L337,116 L335,118 L337,128 L340,136 L337,143 L337,147Z" fill="url(#gRU)" stroke="#fff" stroke-width="0.7" stroke-opacity="0.8"/><path d="M295,141 L300,135 L306,130 L309,124 L313,118 L318,114 L324,111 L331,110 L338,114 L333,119 L326,119 L319.8,118.3 L313,123.9 L309.3,132.6 L308,141.3 L309.3,147.5 L306,152 L297,152Z" fill="url(#c1)" stroke="#fff" stroke-width="0.7" stroke-opacity="0.8" stroke-linejoin="round"/><path d="M319.8,118.3 L323.5,118.3 L324.2,122.6 L326,128.8 L323,130 L320,135 L317,141 L317,151 L316,157 L312,159.5 L308,154 L309.3,147.5 L308,141.3 L309.3,132.6 L313,123.9Z" fill="url(#c2)" stroke="#fff" stroke-width="0.7" stroke-opacity="0.8" stroke-linejoin="round"/><path d="M323.5,118.3 L326,119 L332.9,119 L336,126.4 L336.6,135 L337.8,139.4 L334.7,143.8 L330,147 L323,146 L321.5,140 L324,134 L327,130 L326,128.8 L324.2,122.6Z" fill="url(#c3)" stroke="#fff" stroke-width="0.7" stroke-opacity="0.8" stroke-linejoin="round"/><path d="M302,152 L308,152 L308,161 L303,161Z" fill="url(#c4)" stroke="#fff" stroke-width="0.7" stroke-opacity="0.8" stroke-linejoin="round"/><path d="M299,165 L303,161 L312,161 L312.8,168.5 L310.3,171.8 L311,175 L302,176 L299.5,169.3Z" fill="url(#c5)" stroke="#fff" stroke-width="0.7" stroke-opacity="0.8" stroke-linejoin="round"/><path d="M312,160 L326.2,159 L328.7,167.7 L326.2,171.8 L317,170 L312.8,168.5Z" fill="url(#c6)" stroke="#fff" stroke-width="0.7" stroke-opacity="0.8" stroke-linejoin="round"/><path d="M324,152 L329,147 L337,147 L336,160 L326.2,159Z" fill="url(#c7)" stroke="#fff" stroke-width="0.7" stroke-opacity="0.8" stroke-linejoin="round"/><path d="M290,172 L299,165 L299.5,169.3 L300,173 L294,172Z" fill="url(#c8)" stroke="#fff" stroke-width="0.7" stroke-opacity="0.8" stroke-linejoin="round"/><path d="M279,174 L285,172 L290,172 L294,172 L300,173 L302,176 L300.3,180 L302.8,184.3 L298,188 L287,187.5 L285,184 L285.3,177.7Z" fill="url(#c9)" stroke="#fff" stroke-width="0.7" stroke-opacity="0.8" stroke-linejoin="round"/><path d="M270,185 L287,186 L298,186.8 L293,190 L288,194 L284,201 L276,203 L275,197.7 L275.3,189.3 L270,189Z" fill="url(#c10)" stroke="#fff" stroke-width="0.7" stroke-opacity="0.8" stroke-linejoin="round"/><path d="M270,189 L275.3,189.3 L275,197.7 L274,203 L270,203Z" fill="url(#c11)" stroke="#fff" stroke-width="0.7" stroke-opacity="0.8" stroke-linejoin="round"/><path d="M300.3,180 L302,176 L311,175 L317,176 L318,180 L310,181.5 L303,184Z" fill="url(#c12)" stroke="#fff" stroke-width="0.7" stroke-opacity="0.8" stroke-linejoin="round"/><path d="M310.3,171.8 L312.8,168.5 L317,170 L326.2,171.8 L325.3,176 L317,176 L311,175Z" fill="url(#c13)" stroke="#fff" stroke-width="0.7" stroke-opacity="0.8" stroke-linejoin="round"/><path d="M302.8,184.3 L303,184 L310,181.5 L311,187 L316,192 L321,196 L317,201 L313,201 L313,194 L308,189 L304,187Z" fill="url(#c14)" stroke="#fff" stroke-width="0.7" stroke-opacity="0.8" stroke-linejoin="round"/><path d="M310,181.5 L318,180 L325.3,176 L326.2,181 L332,183.5 L333,190 L330,195 L328,201 L324,197 L321,191 L314,185Z" fill="url(#c15)" stroke="#fff" stroke-width="0.7" stroke-opacity="0.8" stroke-linejoin="round"/><path d="M325.3,176 L326.2,171.8 L335.3,175.2 L339,181 L337.8,186 L332,183.5 L326.2,181Z" fill="url(#c16)" stroke="#fff" stroke-width="0.7" stroke-opacity="0.8" stroke-linejoin="round"/><path d="M332,183.5 L337.8,186 L337,191 L333,190Z" fill="url(#c17)" stroke="#fff" stroke-width="0.7" stroke-opacity="0.8" stroke-linejoin="round"/><path d="M324,192 L333,190 L337,191 L332,194 L330,201 L325,200Z" fill="url(#c18)" stroke="#fff" stroke-width="0.7" stroke-opacity="0.8" stroke-linejoin="round"/><path d="M333,190 L337,189 L340,192.7 L350,190 L365,191 L368,196 L366.7,198.5 L365,198.5 L354,201 L346,203 L338,202 L333,198Z" fill="url(#c19)" stroke="#fff" stroke-width="0.7" stroke-opacity="0.8" stroke-linejoin="round"/><path d="M360,184 L366,186 L372,188 L374,193 L370,196.8 L368,196 L365,191Z" fill="url(#c20)" stroke="#fff" stroke-width="0.7" stroke-opacity="0.8" stroke-linejoin="round"/><path d="M352,202 L354,201 L365,198.5 L363.3,203.5 L361.7,208.5 L355.8,211 L351,211Z" fill="url(#c21)" stroke="#fff" stroke-width="0.7" stroke-opacity="0.8" stroke-linejoin="round"/><path d="M365,198.5 L370.8,201 L374,206 L375.8,211.8 L373.3,215 L368.3,214.3 L361.7,208.5 L363.3,203.5Z" fill="url(#c22)" stroke="#fff" stroke-width="0.7" stroke-opacity="0.8" stroke-linejoin="round"/><path d="M370,196.8 L371.7,191.8 L377.5,193.5 L380.8,198.5 L386.7,198.5 L390,191.8 L396.7,197.7 L399,203.5 L398.3,209.3 L401.7,215 L403.3,224 L395,224 L389,222 L382.5,217 L379,211.8 L375.8,211.8 L374,206 L370.8,201Z" fill="url(#c23)" stroke="#fff" stroke-width="0.7" stroke-opacity="0.8" stroke-linejoin="round"/><path d="M399,203.5 L403.3,200 L410,198.5 L415.8,200 L421.7,199.3 L417.5,204.3 L416.7,209.3 L411.7,215 L406.7,216.8 L401.7,215 L398.3,209.3Z" fill="url(#c24)" stroke="#fff" stroke-width="0.7" stroke-opacity="0.8" stroke-linejoin="round"/><path d="M416.7,209.3 L417.5,204.3 L421.7,203.5 L426.7,203.5 L425,207.7 L426.7,211.8 L423.3,216.8 L420.8,222.7 L417.5,228.5 L411.7,226 L403.3,224 L401.7,215 L406.7,216.8 L411.7,215Z" fill="url(#c25)" stroke="#fff" stroke-width="0.7" stroke-opacity="0.8" stroke-linejoin="round"/><path d="M351,211 L355.8,211 L361.7,208.5 L368.3,214.3 L373.3,215 L375.8,219.3 L380,224.3 L386.7,227.7 L388.3,231 L385,236 L376.7,238.5 L373.3,242.7 L369,240 L365,232.7 L360,224.3 L355,217.7Z" fill="url(#c26)" stroke="#fff" stroke-width="0.7" stroke-opacity="0.8" stroke-linejoin="round"/><path d="M388.3,231 L386.7,227.7 L391,222 L398,228 L397.5,232 L393.3,236 L388.3,241 L385,242.7 L385,236Z" fill="url(#c27)" stroke="#fff" stroke-width="0.7" stroke-opacity="0.8" stroke-linejoin="round"/><path d="M373.3,242.7 L376.7,238.5 L385,236 L385,242.7 L380,248 L368,248 L369,240Z" fill="url(#c28)" stroke="#fff" stroke-width="0.7" stroke-opacity="0.8" stroke-linejoin="round"/><path d="M372,174 L374,166 L384,163 L396,165 L400,157 L416,153 L426,157 L434,164 L440,170 L434,176 L433,182 L428,189 L410,188 L395,186 L388,192 L380,190 L372,188 L369,180Z" fill="url(#c29)" stroke="#fff" stroke-width="0.7" stroke-opacity="0.8" stroke-linejoin="round"/><path d="M440,170 L446,166 L450,167 L460,162 L466,165 L474,167 L488,164 L494,166 L498,169 L492,173 L489,179 L484,182 L476,186 L468,186 L460,184 L452,179 L449,175 L444,173Z" fill="url(#c30)" stroke="#fff" stroke-width="0.7" stroke-opacity="0.8" stroke-linejoin="round"/><path d="M440,170 L444,173 L449,175 L452,179 L460,184 L468,186 L476,186 L484,182 L489,179 L492,173 L498,169 L494,166 L495,157 L502,153 L510,159 L520,164 L526,168 L527,176 L523,180 L517,187 L516,190 L515,240 L489,229.5 L482,232 L475,234 L468,232 L465,226 L460,222 L456,221 L448,219 L440,216 L432,210 L426.7,203.5 L421.7,203.5 L421.7,199.3 L423.3,192.5 L428,189 L433,182 L434,176Z" fill="url(#c31)" stroke="#fff" stroke-width="0.7" stroke-opacity="0.8" stroke-linejoin="round"/><path d="M417.5,228.5 L420.8,222.7 L423.3,216.8 L426.7,211.8 L425,207.7 L426.7,203.5 L432,210 L440,216 L448,219 L456,221 L462,222 L464,229 L458,229 L452,234 L447,240 L441,250 L436,259 L431,253 L426,242 L424,233 L418,232Z" fill="url(#c32)" stroke="#fff" stroke-width="0.7" stroke-opacity="0.8" stroke-linejoin="round"/><path d="M515,187 L517,187 L523,183 L527,199 L524,203 L519,203Z" fill="url(#c33)" stroke="#fff" stroke-width="0.7" stroke-opacity="0.8" stroke-linejoin="round"/><path d="M460,222 L465,226 L468,232 L472,236 L470,241 L474,246 L472,250 L472.5,252 L470,252 L466,241 L462,233 L458,229 L464,229 L462,222Z" fill="url(#c34)" stroke="#fff" stroke-width="0.7" stroke-opacity="0.8" stroke-linejoin="round"/><path d="M468,232 L475,234 L480,238 L482,243 L478,245 L476.5,249 L472.5,252 L472,250 L474,246 L470,241 L472,236Z" fill="url(#c35)" stroke="#fff" stroke-width="0.7" stroke-opacity="0.8" stroke-linejoin="round"/><path d="M475,234 L482,232 L489,229.5 L492,234 L490,238 L495,245 L493,253 L486,252 L490,246 L486,240 L482,243 L480,238Z" fill="url(#c36)" stroke="#fff" stroke-width="0.7" stroke-opacity="0.8" stroke-linejoin="round"/><path d="M482,243 L486,240 L490,246 L486,252 L481,249Z" fill="url(#c37)" stroke="#fff" stroke-width="0.7" stroke-opacity="0.8" stroke-linejoin="round"/></g>
<g clip-path="url(#cAF)"><rect x="250" y="195" width="140" height="145" fill="url(#gAF)"/><path d="M271,205 L276,203 L283.3,201 L283.3,204.3 L282.5,209.3 L275,213.5 L270.8,215 L270.8,221.8 L258,221.8 L258,215Z" fill="url(#c38)" stroke="#fff" stroke-width="0.7" stroke-opacity="0.8" stroke-linejoin="round"/><path d="M283.3,200 L303.3,199 L303.3,206 L304,210 L305,217.7 L307.5,225 L309,226.8 L294.2,236 L275.8,224.3 L275,221.8 L270.8,221.8 L270.8,215 L275,213.5 L282.5,209.3 L283.3,204.3Z" fill="url(#c39)" stroke="#fff" stroke-width="0.7" stroke-opacity="0.8" stroke-linejoin="round"/><path d="M303.3,199 L308,199 L308,208.5 L305.8,208.5 L304,210 L303.3,206Z" fill="url(#c40)" stroke="#fff" stroke-width="0.7" stroke-opacity="0.8" stroke-linejoin="round"/><path d="M304,210 L305.8,208.5 L308,207 L313.3,210 L320,212.5 L325,210 L332.5,210.8 L333.3,231.8 L333.3,233.5 L315,227.7 L309,226.8 L307.5,225 L305,217.7Z" fill="url(#c41)" stroke="#fff" stroke-width="0.7" stroke-opacity="0.8" stroke-linejoin="round"/><path d="M332.5,210.8 L346.7,212 L354,212 L356,230.2 L333.3,230.2Z" fill="url(#c42)" stroke="#fff" stroke-width="0.7" stroke-opacity="0.8" stroke-linejoin="round"/><path d="M254,221.8 L275,221.8 L275.8,224.3 L276.7,241 L265,241 L262.5,244.3 L254,240Z" fill="url(#c43)" stroke="#fff" stroke-width="0.7" stroke-opacity="0.8" stroke-linejoin="round"/><path d="M275.8,224.3 L294.2,236 L294.2,246 L285.8,244.3 L277.5,249.3 L273.3,249.3 L271.7,245 L265,241 L276.7,241Z" fill="url(#c44)" stroke="#fff" stroke-width="0.7" stroke-opacity="0.8" stroke-linejoin="round"/><path d="M294.2,236 L309,226.8 L315,227.7 L315.8,244.3 L312.5,246.8 L305,245 L294.2,246 L292.5,249.3 L291.7,247.7 L294.2,246Z" fill="url(#c45)" stroke="#fff" stroke-width="0.7" stroke-opacity="0.8" stroke-linejoin="round"/><path d="M315,227.7 L333.3,233.5 L332.5,239.3 L330,246 L331.7,251 L323.3,253.5 L316.7,256 L314.2,251 L312.5,246.8 L315.8,244.3Z" fill="url(#c46)" stroke="#fff" stroke-width="0.7" stroke-opacity="0.8" stroke-linejoin="round"/><path d="M333.3,230.2 L345,231.5 L348.3,237.7 L350,242.7 L348.3,247.7 L350.8,253.5 L346.7,258.5 L343.3,260 L336.7,256.8 L331.7,251 L330,246 L332.5,239.3 L333.3,233.5Z" fill="url(#c47)" stroke="#fff" stroke-width="0.7" stroke-opacity="0.8" stroke-linejoin="round"/><path d="M345,231.5 L357,230 L360,237 L356.7,241 L352.5,241.8 L350,242.7 L348.3,237.7Z" fill="url(#c48)" stroke="#fff" stroke-width="0.7" stroke-opacity="0.8" stroke-linejoin="round"/><path d="M352.5,241.8 L356.7,241 L361.7,246 L366.7,250.2 L368.3,254.3 L375,256.8 L368.3,261.8 L361.7,262.7 L356.7,263.5 L352.5,261 L350.8,253.5 L348.3,247.7 L350,242.7Z" fill="url(#c49)" stroke="#fff" stroke-width="0.7" stroke-opacity="0.8" stroke-linejoin="round"/><path d="M366.7,250.2 L370.8,253.5 L381.7,249 L385,252 L380,258 L375,266 L368.3,274 L364,279 L363.3,271 L363.3,263.5 L368.3,261.8 L375,256.8 L368.3,254.3Z" fill="url(#c50)" stroke="#fff" stroke-width="0.7" stroke-opacity="0.8" stroke-linejoin="round"/><path d="M356.7,241 L360,237 L368,247 L366.7,250.2 L361.7,246Z" fill="url(#c51)" stroke="#fff" stroke-width="0.7" stroke-opacity="0.8" stroke-linejoin="round"/><path d="M253,240 L265,241 L262.5,244.3 L259,246 L253,247Z" fill="url(#c52)" stroke="#fff" stroke-width="0.7" stroke-opacity="0.8" stroke-linejoin="round"/><path d="M253,246 L259,246 L262.5,244.3 L271.7,245 L273.3,249.3 L270,256 L262,258 L256,250Z" fill="url(#c53)" stroke="#fff" stroke-width="0.7" stroke-opacity="0.8" stroke-linejoin="round"/><path d="M273.3,249.3 L277.5,249.3 L281.7,251.8 L280,262 L270,262 L270,256Z" fill="url(#c54)" stroke="#fff" stroke-width="0.7" stroke-opacity="0.8" stroke-linejoin="round"/><path d="M277.5,249.3 L285.8,244.3 L291.7,247.7 L290,251 L281.7,251.8Z" fill="url(#c55)" stroke="#fff" stroke-width="0.7" stroke-opacity="0.8" stroke-linejoin="round"/><path d="M281.7,251.8 L288.3,251 L287.5,262 L280,262Z" fill="url(#c56)" stroke="#fff" stroke-width="0.7" stroke-opacity="0.8" stroke-linejoin="round"/><path d="M288.3,251 L290,251 L292.5,249.3 L291.7,262 L287.5,262Z" fill="url(#c57)" stroke="#fff" stroke-width="0.7" stroke-opacity="0.8" stroke-linejoin="round"/><path d="M292.5,249.3 L294.2,246 L305,245 L312.5,246.8 L314.2,251 L311.7,254.3 L306.7,257.7 L303.3,262 L291.7,262Z" fill="url(#c58)" stroke="#fff" stroke-width="0.7" stroke-opacity="0.8" stroke-linejoin="round"/><path d="M312.5,246.8 L314.2,251 L316.7,256 L315,261.8 L316.7,265 L306.7,265 L303,262 L306.7,257.7 L311.7,254.3Z" fill="url(#c59)" stroke="#fff" stroke-width="0.7" stroke-opacity="0.8" stroke-linejoin="round"/><path d="M316.7,256 L323.3,253.5 L331.7,251 L336.7,256.8 L343.3,260 L336.7,261.8 L328.3,261 L321.7,261.8 L315,261.8Z" fill="url(#c60)" stroke="#fff" stroke-width="0.7" stroke-opacity="0.8" stroke-linejoin="round"/><path d="M303,265 L311.7,266.8 L312.5,274.3 L307.5,277 L303,272Z" fill="url(#c61)" stroke="#fff" stroke-width="0.7" stroke-opacity="0.8" stroke-linejoin="round"/><path d="M311.7,266.8 L316.7,265 L315,261.8 L321.7,261.8 L320.8,265 L318.3,269.3 L315.8,276 L310.8,280 L307.5,277 L312.5,274.3Z" fill="url(#c62)" stroke="#fff" stroke-width="0.7" stroke-opacity="0.8" stroke-linejoin="round"/><path d="M321.7,261.8 L328.3,261 L336.7,261.8 L343.3,263.5 L346.7,266 L345,272.7 L343.3,279.3 L344,286 L346.7,289.3 L340,287.7 L338.3,289 L336.7,284.3 L330,290 L327.5,285 L321.7,285.8 L320,281.7 L310.8,280.8 L315.8,276 L318.3,269.3 L320.8,265Z" fill="url(#c63)" stroke="#fff" stroke-width="0.7" stroke-opacity="0.8" stroke-linejoin="round"/><path d="M346.7,266 L352.5,264.3 L353.3,268.5 L351.7,273.5 L346.7,273.5 L345,272.7Z" fill="url(#c64)" stroke="#fff" stroke-width="0.7" stroke-opacity="0.8" stroke-linejoin="round"/><path d="M352.5,261 L356.7,263.5 L363.3,263.5 L363.3,271 L364,279 L361.7,281 L351.7,273.5 L353.3,268.5 L352.5,264.3Z" fill="url(#c65)" stroke="#fff" stroke-width="0.7" stroke-opacity="0.8" stroke-linejoin="round"/><path d="M345,272.7 L346.7,273.5 L351.7,273.5 L361.7,281 L363,290 L350.8,290 L348.3,290 L343.3,284 L343.3,279.3Z" fill="url(#c66)" stroke="#fff" stroke-width="0.7" stroke-opacity="0.8" stroke-linejoin="round"/><path d="M308,280.8 L320,281.7 L321.7,285.8 L327.5,285 L330,290 L327.5,291.7 L326.7,300.8 L307,300.8Z" fill="url(#c67)" stroke="#fff" stroke-width="0.7" stroke-opacity="0.8" stroke-linejoin="round"/><path d="M327.5,291.7 L330,290 L336.7,284.3 L338.3,289 L340,293.3 L348.3,290 L350,295.8 L343.3,300 L336.7,302.5 L335,302.5 L326.7,300.8Z" fill="url(#c68)" stroke="#fff" stroke-width="0.7" stroke-opacity="0.8" stroke-linejoin="round"/><path d="M350.8,290 L364,286 L364,298 L353,303 L352,309 L349,316 L347.5,309 L348.3,302.5 L343.3,300 L350,295.8 L348.3,290Z" fill="url(#c69)" stroke="#fff" stroke-width="0.7" stroke-opacity="0.8" stroke-linejoin="round"/><path d="M336.7,302.5 L343.3,300 L348.3,302.5 L347.5,309 L341.7,311.7 L337.5,309Z" fill="url(#c70)" stroke="#fff" stroke-width="0.7" stroke-opacity="0.8" stroke-linejoin="round"/><path d="M307,300.8 L326.7,300.8 L335,302.5 L324,303.3 L322.5,313.3 L321.7,320 L314,321 L311,315Z" fill="url(#c71)" stroke="#fff" stroke-width="0.7" stroke-opacity="0.8" stroke-linejoin="round"/><path d="M324,303.3 L335,303.3 L337.5,309 L335,314 L328.3,318.3 L322.5,316.7 L322.5,313.3Z" fill="url(#c72)" stroke="#fff" stroke-width="0.7" stroke-opacity="0.8" stroke-linejoin="round"/><path d="M314,320 L321.7,320 L322.5,316.7 L328.3,318.3 L335,314 L341.7,311.7 L347.5,309 L349,316 L343.3,321 L340.8,326 L336.7,331 L331.7,334.5 L322.5,335 L318,332Z" fill="url(#c73)" stroke="#fff" stroke-width="0.7" stroke-opacity="0.8" stroke-linejoin="round"/></g>
<g clip-path="url(#cSA)"><rect x="150" y="250" width="100" height="140" fill="url(#gSA)"/><path d="M160,250 L169,250 L173,258 L178,261 L179,268 L175,272 L176,277 L167,274 L162,270 L156,262Z" fill="url(#c74)" stroke="#fff" stroke-width="0.7" stroke-opacity="0.8" stroke-linejoin="round"/><path d="M169,250 L178,251 L188,253 L193,259 L190,263 L185,265 L184,270 L179,268 L178,261 L173,258Z" fill="url(#c75)" stroke="#fff" stroke-width="0.7" stroke-opacity="0.8" stroke-linejoin="round"/><path d="M191,257 L200,259 L209,261 L205,267 L196,269 L190,263Z" fill="url(#c76)" stroke="#fff" stroke-width="0.7" stroke-opacity="0.8" stroke-linejoin="round"/><path d="M152,276 L162,270 L167,274 L163,280 L158,283 L152,283Z" fill="url(#c77)" stroke="#fff" stroke-width="0.7" stroke-opacity="0.8" stroke-linejoin="round"/><path d="M152,283 L158,283 L163,280 L167,274 L176,277 L173,283 L170,288 L175,293 L179,295 L180,305 L179,312 L170,308 L160,300 L152,290Z" fill="url(#c78)" stroke="#fff" stroke-width="0.7" stroke-opacity="0.8" stroke-linejoin="round"/><path d="M179,295 L188,293 L196,298 L201,303 L200,308 L194,308 L190,314 L184,315 L181,310 L180,305Z" fill="url(#c79)" stroke="#fff" stroke-width="0.7" stroke-opacity="0.8" stroke-linejoin="round"/><path d="M185,265 L190,263 L196,269 L205,267 L209,261 L215,266 L226,270 L236,272 L245,279 L243,288 L238,294 L239,303 L234,312 L226,316 L224,322 L219,331 L213,334 L210,326 L207,322 L206,316 L201,308 L201,303 L196,298 L188,293 L179,295 L175,293 L170,288 L173,283 L176,277 L175,272 L179,268 L184,270Z" fill="url(#c80)" stroke="#fff" stroke-width="0.7" stroke-opacity="0.8" stroke-linejoin="round"/><path d="M194,308 L200,308 L206,316 L207,322 L204,323 L199,318 L196,316Z" fill="url(#c81)" stroke="#fff" stroke-width="0.7" stroke-opacity="0.8" stroke-linejoin="round"/><path d="M210,326 L213,334 L219,331 L220,337 L212,339 L208,334Z" fill="url(#c82)" stroke="#fff" stroke-width="0.7" stroke-opacity="0.8" stroke-linejoin="round"/><path d="M188,314 L190,314 L194,308 L196,316 L199,318 L204,323 L207,322 L210,326 L208,334 L212,339 L214,345 L208,349 L206,354 L205,360 L202,366 L205,372 L201,378 L201,382 L212,388 L199,383 L195,378 L193,368 L190,356 L188,346 L187,334 L186,322Z" fill="url(#c83)" stroke="#fff" stroke-width="0.7" stroke-opacity="0.8" stroke-linejoin="round"/><path d="M179,310 L184,315 L188,314 L186,322 L187,334 L188,346 L190,356 L193,368 L195,378 L199,383 L205,390 L192,388 L180,350 L180,320Z" fill="url(#c84)" stroke="#fff" stroke-width="0.7" stroke-opacity="0.8" stroke-linejoin="round"/></g>
<path d="M191,74 L196,70 L200,66 L206,58 L212,54 L220,52 L228,55 L234,46 L246,44 L256,48 L248,54 L265,58 L260,64 L257,72 L258,80 L254,90 L250,98 L254,104 L248,108 L240,116 L232,124 L222,134 L218,141 L212,136 L208,126 L207,110 L208,100 L206,90 L202,82 L196,78Z" fill="url(#g)"/>
<path d="M489.4,346 L493,334 L494.2,324.2 L506.4,320.6 L514.8,317 L522,311 L530.6,309.7 L536.7,308.5 L541.5,313.3 L547.6,319.4 L551.2,311 L553.6,311 L556,321.8 L561,331.5 L563.3,340 L562,348.5 L557.3,357 L552.4,364.2 L547.6,367.9 L540.3,369 L535.5,366.7 L530.6,360.6 L528.2,354.5 L524.5,349.7 L517.3,346 L508.8,346 L501.5,348.5 L494.2,348.5Z" fill="url(#g)"/>
<path d="M302.5,187 L304.2,187 L304.2,193.5 L302.5,193.5Z" fill="url(#g)"/>
<path d="M313.7,199 L317.5,198 L317,200.5 L314.5,200.8Z" fill="url(#g)"/>
<path d="M492.5,235.5 L495.8,236 L495,238 L492.5,237.5Z" fill="url(#g)"/>
<path d="M529,271.5 L531,271.5 L531,274 L529,274Z" fill="url(#g)"/>
<path d="M507,288.5 L511,288.8 L511,290 L507,289.8Z" fill="url(#g)"/>
<path d="M519,290 L523.5,290.3 L523.5,291.5 L519,291.3Z" fill="url(#g)"/>
<path d="M531.5,279 L534.5,279.3 L534.3,280.7 L531.5,280.5Z" fill="url(#g)"/>
<path d="M253,123 L260,121 L266,122 L265,127 L258,129.6 L254,127Z" fill="url(#g)"/>
<path d="M279.5,151.8 L282,151 L282.8,157.7 L287,161 L289.5,165 L287,167.7 L281,168.5 L282,163.5 L279.5,159.3Z" fill="url(#g)"/>
<path d="M271,161.8 L277,159.3 L277,165 L272,167.7Z" fill="url(#g)"/>
<path d="M367.5,302.5 L373.3,299 L374,301.7 L371.7,310 L368.3,315.8 L366.7,316.7 L365.8,313.3 L367.5,307.5Z" fill="url(#g)"/>
<path d="M534.2,376.4 L539,376.4 L536.7,381.2 L533.5,380Z" fill="url(#g)"/>
<path d="M587.6,383.6 L591.2,377.6 L593.6,374 L596,380 L591.2,384.8 L588.8,387.3Z" fill="url(#g)"/>
<path d="M584,388.5 L586.4,391 L576.7,395.8 L568.2,400.6 L566.5,398 L574.2,393.3Z" fill="url(#g)"/>
<path d="M541,291.8 L547,290.6 L556.7,294.2 L562.7,300.3 L566.4,307.6 L560.3,304 L551.8,304 L547,298 L543.3,294.2Z" fill="url(#g)"/>
<path d="M469.2,263.7 L474.2,266.7 L480,271.7 L485,275.8 L487.5,279.2 L486.7,282.5 L482.5,280 L477.5,275 L472.5,269.2Z" fill="url(#g)"/>
<path d="M488.3,285 L495,285.8 L502.5,288 L500.8,289.2 L493.3,287.5Z" fill="url(#g)"/>
<path d="M494.7,271.7 L498.3,270 L504.2,266.7 L508.3,262.5 L510.8,263.3 L511.7,266.7 L510.8,272.5 L508.3,276.7 L504.2,278.3 L500,279.2 L495.8,275.8Z" fill="url(#g)"/>
<path d="M515,273.3 L522.5,272.2 L518.3,275.8 L519.2,280.8 L516.7,278.3 L514.2,282.5 L513.3,278.3Z" fill="url(#g)"/>
<path d="M515,240 L517.5,239.7 L518.3,244.2 L517.5,247.5 L515,245Z" fill="url(#g)"/>
<path d="M521.7,259.2 L525.8,257.5 L526.7,260 L524.2,262.5Z" fill="url(#g)"/>
<path d="M519.2,251 L524.2,250.5 L523.5,253.5 L520,254Z" fill="url(#g)"/>
<path d="M513.5,225 L515.5,225.5 L515.2,229.5 L513.8,229Z" fill="url(#g)"/>
<path d="M438.5,256 L440.5,256.5 L440.5,259.5 L438.5,259Z" fill="url(#g)"/>
<path d="M541.7,176.7 L543.3,174 L549,177.5 L546.7,180 L543.3,182.5 L540.8,180.8Z" fill="url(#g)"/>
<path d="M540.8,182.5 L545.8,185 L547.5,190.8 L546.7,195.8 L545,199.2 L540.8,200.3 L536.7,202 L532.5,204 L530,205 L528.7,205.5 L529.2,210 L531.3,209.7 L532.5,206 L533.5,203 L535,201 L537.5,198.5 L539.5,196 L540.3,193 L540,185Z" fill="url(#g)"/>
<path d="M533,149 L536,152 L540,160 L542,168 L540,166 L537,158Z" fill="url(#g)"/>
<path d="M377.3,81 L379.9,82.5 L374.3,90 L370.2,97.2 L370.2,103.2 L372.6,108.2 L369.2,109.2 L365.8,103.2 L366.6,94.2 L371.2,87Z" fill="url(#g)"/>
<path d="M399,51 L404,52.5 L404.5,56 L400,55.5Z" fill="url(#g)"/>
<path d="M405,55.5 L411.5,58.5 L411.5,62.5 L405,60.5Z" fill="url(#g)"/>
<path d="M415.5,57.5 L420.5,60.5 L420.5,65 L416,62.5Z" fill="url(#g)"/>
<path d="M473,60 L480,58.5 L484,60 L480,66 L476,65Z" fill="url(#g)"/>
<path d="M486,69 L489,69.5 L488,71.5 L486,71Z" fill="url(#g)"/>
<path d="M489,58.5 L493,59 L492,60.5 L489,60Z" fill="url(#g)"/>
<path d="M549,63 L553,61.5 L554,63 L550,65Z" fill="url(#g)"/>
<path d="M144,235.8 L150,234 L156.7,236.7 L163.3,240 L158.3,240 L151.7,237.5 L145.8,237.5Z" fill="url(#g)"/>
<path d="M166.7,240 L173.5,240 L173.3,242.5 L166.7,242.5Z" fill="url(#g)"/>
<path d="M177,50 L184,46.5 L196,43.5 L208,45.5 L210.5,50 L204,55 L199,58.5 L194,62.5 L189,68.5 L184,73.5 L180,78 L174.5,80 L167,79.5 L170.8,74.3 L175,72 L173.5,70 L176,64.4 L180,61 L183,57 L178,55Z" fill="url(#g)"/>
<path d="M165.8,58 L171.4,52 L174.5,54.4 L175.8,60.6 L173.3,66.8 L167.7,68.7 L165.8,64.4Z" fill="url(#g)"/>
<path d="M159,84.9 L164.6,83 L174.5,84.5 L175.5,88 L167,89.8 L160.9,88Z" fill="url(#g)"/>
<path d="M124.2,78 L129.8,75 L134.8,79.3 L137.3,75.5 L141,80 L137.3,82.6 L131,83.8 L126,81Z" fill="url(#g)"/>
<path d="M145.3,77.4 L149.7,79.3 L152.2,77.4 L152.2,81.8 L149,84.2 L146,81.8Z" fill="url(#g)"/>
<path d="M150.3,64.4 L153.4,61.3 L155.9,64.4 L155.3,70.6 L152.8,67.5Z" fill="url(#g)"/>
<path d="M158.4,66.8 L160.9,69.3 L159.6,73 L157.8,70Z" fill="url(#g)"/>
<path d="M156.5,76.8 L159.6,78 L158.4,80.5 L156,79Z" fill="url(#g)"/>
<path d="M119.3,73 L126.7,68.7 L131,68.7 L128,71.8 L122.4,75Z" fill="url(#g)"/>
<path d="M136.6,68 L139.8,66.8 L138.5,70Z" fill="url(#g)"/>
<path d="M140.4,63.7 L143.5,64.4 L142,66Z" fill="url(#g)"/>
<path d="M105.3,94 L108,88.5 L111.8,84.2 L119.4,84.7 L121,88 L115,90.7 L110.7,95 L106.4,96.2Z" fill="url(#g)"/>
<path d="M112.4,100 L117.3,94 L122.2,91.8 L125.4,94.5 L129.8,96.2 L132,91.8 L133.6,94 L132.5,100.5 L135.3,106.5 L130.9,108.7 L127.6,109.3 L123.3,109.8 L117.8,110.9 L113.4,108.2 L112.4,103.8Z" fill="url(#g)"/>
<path d="M139,95.6 L144,91.8 L147.3,92.9 L145.6,98.4 L142.9,101 L140.2,98.4Z" fill="url(#g)"/>
<path d="M150.5,92.9 L155.4,91.3 L156,94 L152.7,97.3 L150,97.3Z" fill="url(#g)"/>
<path d="M137.5,104.5 L141.5,104 L142,107.5 L138,108Z" fill="url(#g)"/>
<path d="M157.1,100.5 L162,96.3 L163.5,94.8 L168.4,94 L174.8,97.7 L181.9,104.8 L186.2,111.9 L192.5,121.8 L190.4,126.8 L186.2,134.6 L181.9,137.4 L177.6,133.1 L173.4,131 L169.1,131 L167,128.9 L173.4,124.6 L179,123.9 L184.7,120.4 L180.5,116.8 L176.2,114.7 L172,110.4 L169.1,107.6 L164.9,106.2 L160.6,107.6 L156.4,106.2Z" fill="url(#g)"/>
<path d="M152.8,132.4 L155.7,126.8 L160.6,133.1 L157,135Z" fill="url(#g)"/>
<path d="M336.7,188.3 L341.7,180.8 L350,179 L356.7,177.5 L355,181.7 L361.7,187.5 L366.7,192.5 L358,191.7 L348,190 L340,192.5Z" fill="#fff"/>
<path d="M370.8,181.7 L375,178.3 L380.8,179 L380,183.3 L383.3,187.5 L385,193.3 L385,198.3 L380,199 L377.5,195 L375.8,190 L371.7,186.7Z" fill="#fff"/>
<path d="M387.5,181.7 L391.7,180.8 L396.7,183.3 L405,185 L413.3,187.5 L423.3,183.3 L430,185 L428.3,189 L423.3,192.5 L422.5,200 L418.3,199 L415,195 L408.3,192.5 L401.7,190 L395,188.3 L391.7,191.7 L388.3,187.5Z" fill="#fff"/>
<path d="M133.3,180.8 L138.3,177.5 L142.5,177.5 L145.8,181.7 L141.7,182.5 L136.7,182.5Z" fill="#fff"/>
<path d="M140,185 L141.7,185.8 L140.8,193.3 L139,193.3Z" fill="#fff"/>
<path d="M145,183.3 L150.8,184 L152.5,187.5 L149,191.7 L147.5,190 L146.7,185.8Z" fill="#fff"/>
<path d="M183.3,173 L186.7,170.5 L190,167.5 L193,167.5 L193.3,170 L191,172 L187,174 L184,175Z" fill="#fff"/>
<path d="M149,194 L153.3,190.8 L160,188.3 L168.3,184 L173.3,180 L178.3,175.8 L184,173.5" stroke="#fff" stroke-width="1.2" fill="none"/>
<path d="M405,97 L410,103 L416,109 L421,115" stroke="#fff" stroke-width="1" fill="none"/>
<line x1="58" y1="71" x2="105" y2="141.6" stroke="#1a1a1a" stroke-width="1"/>
<line x1="63.8" y1="176.9" x2="122.7" y2="195" stroke="#1a1a1a" stroke-width="1"/>
<line x1="58.1" y1="248.6" x2="110.6" y2="236.2" stroke="#1a1a1a" stroke-width="1"/>
<line x1="117.3" y1="313.6" x2="211.4" y2="295.6" stroke="#1a1a1a" stroke-width="1"/>
<line x1="181.8" y1="402.4" x2="323.8" y2="325.3" stroke="#1a1a1a" stroke-width="1"/>
<line x1="330.2" y1="272" x2="348" y2="367" stroke="#1a1a1a" stroke-width="1"/>
<line x1="347.9" y1="277.4" x2="484.2" y2="378.3" stroke="#1a1a1a" stroke-width="1"/>
<line x1="330" y1="77" x2="436.7" y2="130.3" stroke="#1a1a1a" stroke-width="1"/>
<line x1="585" y1="106.6" x2="430.4" y2="218.8" stroke="#1a1a1a" stroke-width="1"/>
<line x1="562" y1="213.3" x2="490.3" y2="213.2" stroke="#1a1a1a" stroke-width="1"/>
<line x1="590" y1="159" x2="543.3" y2="189.2" stroke="#1a1a1a" stroke-width="1"/>
<circle cx="105" cy="141.6" r="5" fill="#000"/>
<circle cx="122.7" cy="195" r="5" fill="#000"/>
<circle cx="110.6" cy="236" r="5" fill="#000"/>
<circle cx="211.4" cy="295.6" r="5" fill="#000"/>
<circle cx="323.8" cy="325.3" r="5" fill="#000"/>
<circle cx="330.2" cy="272" r="5" fill="#000"/>
<circle cx="347.9" cy="277.4" r="5" fill="#000"/>
<circle cx="436.7" cy="130.3" r="5" fill="#000"/>
<circle cx="430.4" cy="218.8" r="5" fill="#000"/>
<circle cx="490.3" cy="213.2" r="5" fill="#000"/>
<circle cx="543.3" cy="189.2" r="5" fill="#000"/>
</svg>
<div class="t title">Production concentration of critical raw mineral materials</div>
<div class="t h" style="left:41px;top:40.17px;-webkit-text-stroke:0.4px #000">Canada</div>
<div class="bl" style="left:42.3px;top:60.8px"></div>
<div class="t b" style="left:67.7px;top:56.85px">Cobalt</div>
<div class="t h" style="left:266px;top:40.17px;-webkit-text-stroke:0.4px #000">Russia</div>
<div class="bl" style="left:267.3px;top:60.8px"></div>
<div class="t b" style="left:292.7px;top:56.85px">Platinum Group Metals</div>
<div class="t h" style="left:591.5px;top:93.47px;-webkit-text-stroke:0.4px #000">India</div>
<div class="bl" style="left:592.8px;top:114.1px"></div>
<div class="t b" style="left:618.2px;top:110.15px">Graphite</div>
<div class="t h" style="left:597.5px;top:146.77px;-webkit-text-stroke:0.4px #000">Japan</div>
<div class="bl" style="left:598.8px;top:167.4px"></div>
<div class="t b" style="left:624.2px;top:163.45px">Indium</div>
<div class="t h" style="left:574.3px;top:205.37px;-webkit-text-stroke:0.4px #000">China</div>
<div class="bl" style="left:575.6px;top:226.0px"></div>
<div class="t b" style="left:601.0px;top:222.05px">Antimony</div>
<div class="bl" style="left:575.6px;top:240.35px"></div>
<div class="t b" style="left:601.0px;top:236.4px">Beryllium</div>
<div class="bl" style="left:575.6px;top:254.7px"></div>
<div class="t b" style="left:601.0px;top:250.75px">Fluorspar</div>
<div class="bl" style="left:575.6px;top:269.05px"></div>
<div class="t b" style="left:601.0px;top:265.1px">Gallium</div>
<div class="bl" style="left:575.6px;top:283.4px"></div>
<div class="t b" style="left:601.0px;top:279.45px">Graphite</div>
<div class="bl" style="left:575.6px;top:297.75px"></div>
<div class="t b" style="left:601.0px;top:293.8px">Germanium</div>
<div class="bl" style="left:575.6px;top:312.1px"></div>
<div class="t b" style="left:601.0px;top:308.15px">Indium</div>
<div class="bl" style="left:575.6px;top:326.45px"></div>
<div class="t b" style="left:601.0px;top:322.5px">Magnesium</div>
<div class="bl" style="left:575.6px;top:340.8px"></div>
<div class="t b" style="left:601.0px;top:336.85px">Rare earths</div>
<div class="bl" style="left:575.6px;top:355.15px"></div>
<div class="t b" style="left:601.0px;top:351.2px">Tungsten</div>
<div class="t h" style="left:0.5px;top:170.17px;-webkit-text-stroke:0.4px #000">USA</div>
<div class="bl" style="left:1.8px;top:190.8px"></div>
<div class="t b" style="left:27.2px;top:186.85px">Beryllium</div>
<div class="t h" style="left:17.8px;top:252.97px;-webkit-text-stroke:0.6px #000">Mexico</div>
<div class="bl" style="left:19.1px;top:273.6px"></div>
<div class="t b" style="left:44.5px;top:269.65px">Fluorspar</div>
<div class="t h" style="left:53px;top:311.97px;-webkit-text-stroke:0.4px #000">Brazil</div>
<div class="bl" style="left:54.3px;top:332.6px"></div>
<div class="t b" style="left:79.7px;top:328.65px">Niobium</div>
<div class="bl" style="left:54.3px;top:346.95px"></div>
<div class="t b" style="left:79.7px;top:343.0px">Tantalum</div>
<div class="t h" style="left:94.9px;top:394.77px;-webkit-text-stroke:0.4px #000">South Africa</div>
<div class="bl" style="left:96.2px;top:415.4px"></div>
<div class="t b" style="left:121.6px;top:411.45px">Platinum Group Metals</div>
<div class="t h" style="left:278px;top:376.37px;-webkit-text-stroke:0.4px #000">Democratic Republic of Congo</div>
<div class="bl" style="left:279.3px;top:397.0px"></div>
<div class="t b" style="left:304.7px;top:393.05px">Cobalt</div>
<div class="bl" style="left:279.3px;top:411.35px"></div>
<div class="t b" style="left:304.7px;top:407.4px">Tantalum</div>
<div class="t h" style="left:484.9px;top:388.67px;-webkit-text-stroke:0.45px #000">Rwanda</div>
<div class="bl" style="left:486.2px;top:409.3px"></div>
<div class="t b" style="left:511.6px;top:405.35px">Tantalum</div>
</body></html>
